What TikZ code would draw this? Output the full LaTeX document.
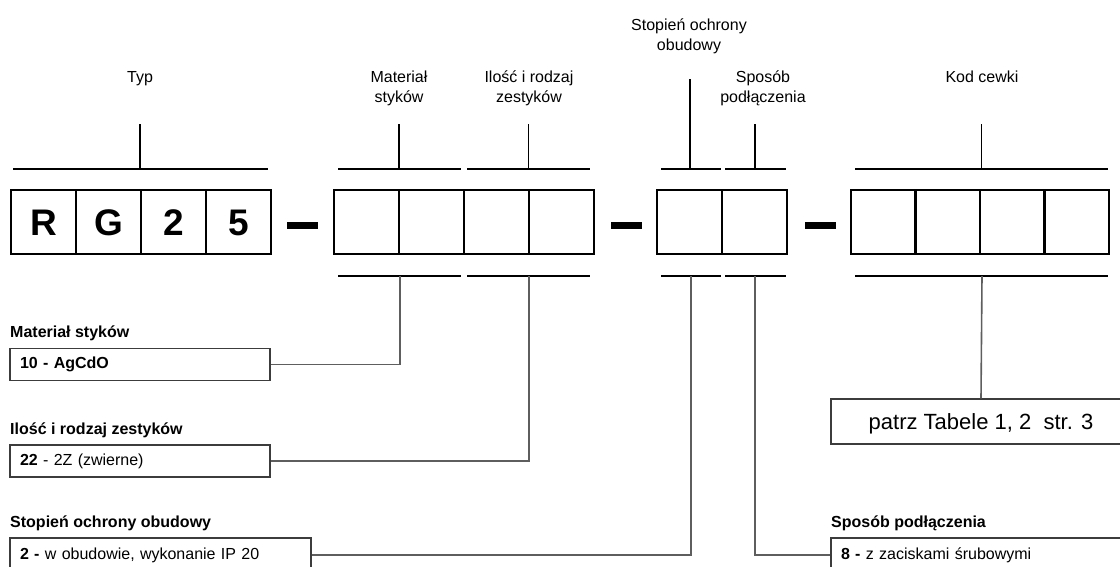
\documentclass[tikz,border=0pt]{standalone}
\usepackage{fontspec}
\setmainfont{Liberation Sans}
\definecolor{conncol}{HTML}{5E5E5E}
\definecolor{boxcol}{HTML}{3C3C3C}
\begin{document}
\begin{tikzpicture}[x=1pt,y=-1pt,
  cell/.style={draw=black, line width=2.8pt, minimum width=65pt, minimum height=64pt, inner sep=0pt,
    text height=26.5pt, text depth=0pt, font=\fontsize{37}{42}\selectfont\bfseries},
  dashbar/.style={fill=black, minimum width=31pt, minimum height=7pt, inner sep=0pt},
  bracket/.style={line width=2.3pt, black},
  tick/.style={line width=1.5pt, black},
  conn/.style={line width=1.6pt, conncol},
  lbl/.style={font=\fontsize{16}{20}\selectfont, inner sep=0pt, align=center},
  head/.style={font=\fontsize{16}{20}\selectfont\bfseries, inner sep=0pt, anchor=base west},
  descbox/.style={draw=boxcol, line width=1.2pt, inner xsep=10pt, inner ysep=0pt,
    font=\fontsize{16}{20}\selectfont, align=left}
]
\useasboundingbox (0,0) rectangle (1120,566);
\clip (0,0) rectangle (1120,566);

% code cells
\node[cell] (c1) at (43.5,222) {R};
\node[cell] (c2) at (108.5,222) {G};
\node[cell] (c3) at (173.5,222) {2};
\node[cell] (c4) at (238.5,222) {5};
\node[cell] (c5) at (366.5,222) {};
\node[cell] (c6) at (431.5,222) {};
\node[cell] (c7) at (496.5,222) {};
\node[cell] (c8) at (561.5,222) {};
\node[cell] (c9) at (689.5,222) {};
\node[cell] (c10) at (754.5,222) {};
\node[cell, minimum width=64.5pt] (c11) at (883.25,222) {};
\node[cell, minimum width=64.5pt] (c12) at (947.75,222) {};
\node[cell, minimum width=64.5pt] (c13) at (1012.25,222) {};
\node[cell, minimum width=64.5pt] (c14) at (1076.75,222) {};

% separators
\node[dashbar] (d1) at (302.5,225.5) {};
\node[dashbar] (d2) at (626,225.5) {};
\node[dashbar] (d3) at (820,225.5) {};

% top labels (base anchor = last line)
\node[lbl, anchor=base] (lTyp) at (140,82) {Typ};
\node[lbl, anchor=base] (lMat) at (399,102) {Materiał\\styków};
\node[lbl, anchor=base] (lIlo) at (529,102) {Ilość i rodzaj\\zestyków};
\node[lbl, anchor=base] (lSto) at (689,50) {Stopień ochrony\\obudowy};
\node[lbl, anchor=base] (lSpo) at (763,102) {Sposób\\podłączenia};
\node[lbl, anchor=base] (lKod) at (982,82) {Kod cewki};

% top brackets
\coordinate (tTyp) at (140,169);
\coordinate (tMat) at (399,169);
\coordinate (tIlo) at (528.5,169);
\coordinate (tSto) at (690,169);
\coordinate (tSpo) at (755,169);
\coordinate (tKod) at (981.5,169);
\draw[bracket] (13,169) -- (268,169);
\draw[bracket] (338,169) -- (461,169);
\draw[bracket] (467,169) -- (590,169);
\draw[bracket] (661,169) -- (721,169);
\draw[bracket] (725,169) -- (786,169);
\draw[bracket] (855,169) -- (1108,169);
\coordinate (eTyp) at (140,124);
\coordinate (eMat) at (399,124);
\coordinate (eIlo) at (528.5,124);
\coordinate (eSto) at (690,79);
\coordinate (eSpo) at (755,124);
\coordinate (eKod) at (981.5,124);
\draw[tick] (tTyp) -- (eTyp);
\draw[tick] (tMat) -- (eMat);
\draw[tick] (tIlo) -- (eIlo);
\draw[tick] (tSto) -- (eSto);
\draw[tick] (tSpo) -- (eSpo);
\draw[tick] (tKod) -- (eKod);

% bottom brackets
\draw[bracket] (338,276) -- (461,276);
\draw[bracket] (467,276) -- (590,276);
\draw[bracket] (661,276) -- (721,276);
\draw[bracket] (725,276) -- (786,276);
\draw[bracket] (855,276) -- (1108,276);
\coordinate (bMat) at (400,276);
\coordinate (bIlo) at (529,276);
\coordinate (bSto) at (691,276);
\coordinate (bSpo) at (755,276);
\coordinate (bKod) at (982,276);

% headings
\node[head] (hMat) at (10,337) {Materiał styków};
\node[head] (hIlo) at (10,434) {Ilość i rodzaj zestyków};
\node[head] (hSto) at (10,527.5) {Stopień ochrony obudowy};
\node[head] (hSpo) at (831,527.5) {Sposób podłączenia};

% description boxes
\node[descbox, minimum width=260pt, minimum height=32pt, text width=240pt] (bx1) at (140,364.5) {\bfseries 10 - AgCdO};
\node[descbox, minimum width=260pt, minimum height=32pt, text width=240pt] (bx2) at (140,461) {\textbf{22} - 2Z (zwierne)};
\node[descbox, minimum width=301pt, minimum height=34pt, text width=281pt] (bx3) at (160.5,555) {\textbf{2 -} w obudowie, wykonanie IP 20};
\node[descbox, minimum width=300pt, minimum height=34pt, text width=280pt] (bx4) at (981,555) {\textbf{8 -} z zaciskami śrubowymi};
\node[draw=boxcol, line width=1.2pt, inner sep=0pt, minimum width=300pt, minimum height=45pt,
  text height=15pt, text depth=0pt, font=\fontsize{22}{26}\selectfont] (bx5) at (981,421.5) {patrz Tabele 1, 2\ \ str. 3};

% connectors
\draw[conn] (bMat) |- (bx1.east);
\draw[conn] (bIlo) |- (bx2.east);
\draw[conn] (bSto) |- (bx3.east);
\draw[conn] (bSpo) |- (bx4.west);
\draw[conn] (bKod) -- (bx5.north);
\end{tikzpicture}
\end{document}
